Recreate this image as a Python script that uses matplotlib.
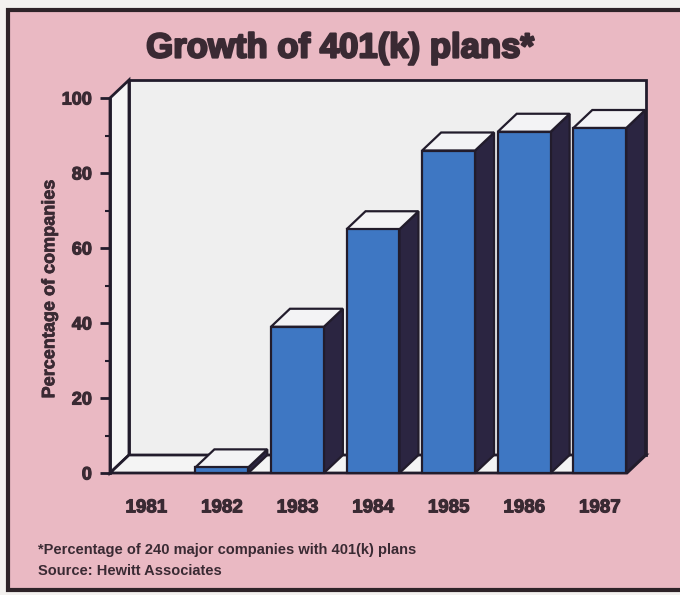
import matplotlib
matplotlib.use("Agg")
import matplotlib.pyplot as plt
import matplotlib.patheffects as pe
from matplotlib.patches import Polygon, Rectangle

years = ["1981", "1982", "1983", "1984", "1985", "1986", "1987"]
pct_companies = [0, 1.5, 39, 65, 86, 91, 92]
y_ticks = [0, 20, 40, 60, 80, 100]
y_minor = [10, 30, 50, 70, 90]

title = "Growth of 401(k) plans*"
ylabel = "Percentage of companies"
note = "*Percentage of 240 major companies with 401(k) plans"
source = "Source: Hewitt Associates"

pink = "#eab9c3"
ink = "#3a2a33"
edge = "#221c2c"
front_blue = "#3e77c3"
side_dark = "#2b2541"
top_white = "#f3f3f5"
wall = "#efefef"

plt.rcParams["font.family"] = ["Liberation Sans", "DejaVu Sans"]

def heavy(w):
    # fake a black weight by stroking the glyph outline
    return [pe.withStroke(linewidth=w, foreground=ink)]

fig = plt.figure(figsize=(6.8, 5.95), dpi=100)
fig.patch.set_facecolor("#f3f1ef")

# pink panel with dark frame
fig.patches.append(Rectangle((8 / 680, 5 / 595), 1.0, 580 / 595, transform=fig.transFigure,
                             facecolor=pink, edgecolor="#2e2328", linewidth=3, zorder=-1))

ax = fig.add_axes([110 / 680, 122 / 595, 517 / 680, 375 / 595])
ax.set_zorder(1)
ax.set_facecolor("none")
xmin, xmax = -0.48, 6.36
ax.set_xlim(xmin, xmax)
ax.set_ylim(0, 100)

# depth of the 3d effect in data units
ddx, ddy = 0.251, 4.8
w = 0.7

# back wall, left wall, floor
ax.add_patch(Rectangle((xmin + ddx, ddy), xmax - xmin, 100, facecolor=wall,
                       edgecolor=edge, linewidth=2, clip_on=False, zorder=1))
ax.add_patch(Polygon([(xmin, 0), (xmin + ddx, ddy), (xmin + ddx, 100 + ddy), (xmin, 100)],
                     closed=True, facecolor="#f6f6f6", edgecolor=edge, linewidth=2,
                     clip_on=False, zorder=1.2))
ax.add_patch(Polygon([(xmin, 0), (xmax, 0), (xmax + ddx, ddy), (xmin + ddx, ddy)],
                     closed=True, facecolor="#f4f4f4", edgecolor=edge, linewidth=2,
                     clip_on=False, zorder=1.4))

for i, v in enumerate(pct_companies):
    if v <= 0:
        continue
    x0, x1 = i - w / 2, i + w / 2
    z = 3 + i * 0.1
    ax.add_patch(Polygon([(x1, 0), (x1 + ddx, ddy), (x1 + ddx, v + ddy), (x1, v)],
                         closed=True, facecolor=side_dark, edgecolor=edge, linewidth=1.6,
                         clip_on=False, zorder=z))
    ax.add_patch(Polygon([(x0, v), (x1, v), (x1 + ddx, v + ddy), (x0 + ddx, v + ddy)],
                         closed=True, facecolor=top_white, edgecolor=edge, linewidth=1.6,
                         clip_on=False, zorder=z))
    ax.bar(i, v, width=w, color=front_blue, edgecolor=edge, linewidth=1.6,
           clip_on=False, zorder=z + 0.05)

for s in ["top", "right", "bottom"]:
    ax.spines[s].set_visible(False)
ax.spines["left"].set_linewidth(2)
ax.spines["left"].set_color(edge)
ax.spines["left"].set_zorder(2)

ax.set_yticks(y_ticks)
ax.set_yticks(y_minor, minor=True)
ax.tick_params(axis="y", which="major", length=7, width=2, color=edge, pad=6,
               labelsize=13, labelcolor=ink)
ax.tick_params(axis="y", which="minor", length=3.5, width=1.5, color=edge)
for lab in ax.get_yticklabels():
    lab.set_fontweight("bold")
    lab.set_path_effects(heavy(0.8))

ax.set_xticks(range(len(years)), years)
ax.tick_params(axis="x", length=0, pad=19, labelsize=13.5, labelcolor=ink)
for lab in ax.get_xticklabels():
    lab.set_fontweight("bold")
    lab.set_path_effects(heavy(0.8))

ax.set_ylabel(ylabel, fontsize=13, fontweight="bold", color=ink,
              path_effects=heavy(0.5))
ax.yaxis.set_label_coords(-0.1, 0.49)

fig.text(0.5, 1 - 48 / 595, title, ha="center", va="center", fontsize=25,
         fontweight="bold", color=ink, path_effects=heavy(1.6))
fig.text(38 / 680, 1 - 550 / 595, note, ha="left", va="center", fontsize=10.5,
         fontweight="bold", color=ink)
fig.text(38 / 680, 1 - 571 / 595, source, ha="left", va="center", fontsize=10.5,
         fontweight="bold", color=ink)

fig.savefig("out.png", dpi=100, facecolor=fig.get_facecolor())
